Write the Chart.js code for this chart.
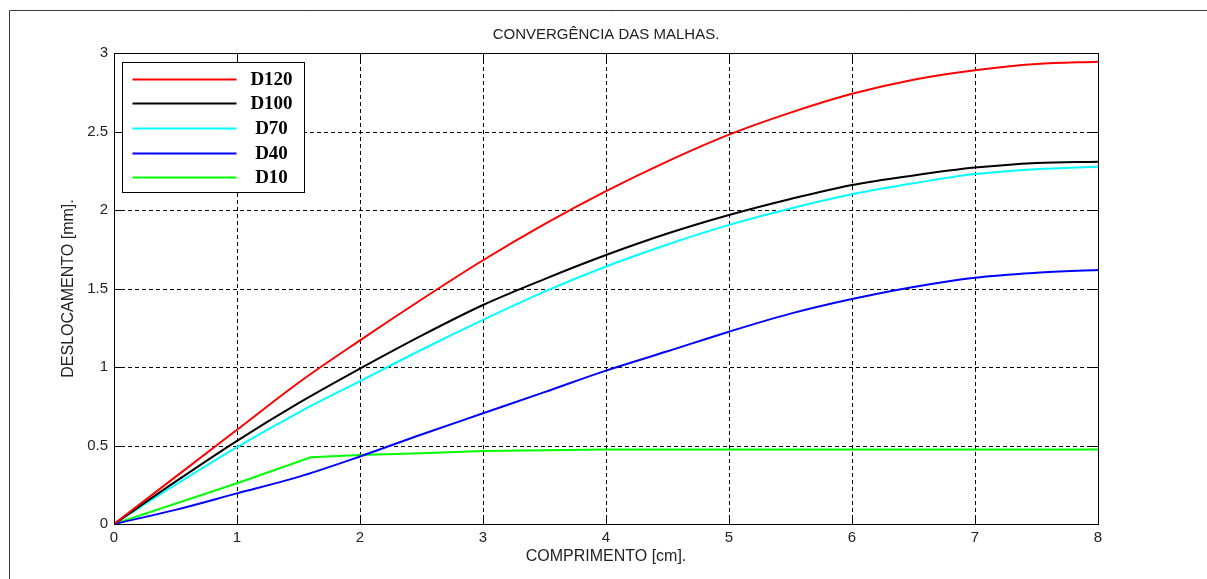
<!DOCTYPE html>
<html>
<head>
<meta charset="utf-8">
<script src="https://cdn.jsdelivr.net/npm/chart.js@4/dist/chart.umd.min.js"></script>
<style>
  html, body { margin: 0; padding: 0; background: #fff; }
  #wrap { width: 1207px; height: 579px; position: relative; }
</style>
</head>
<body>
<div id="wrap"><canvas id="meshChart"></canvas></div>
<script>
// === Data ===
const titleText = 'CONVERGÊNCIA DAS MALHAS.';
const xTitle = 'COMPRIMENTO [cm].';
const yTitle = 'DESLOCAMENTO [mm].';

const xPos = [0, 0.5, 1, 1.5, 2, 2.5, 3, 3.5, 4, 4.5, 5, 5.5, 6, 6.5, 7, 7.5, 8];
const d120 = [0, 0.30, 0.60, 0.90, 1.17, 1.43, 1.68, 1.91, 2.12, 2.31, 2.48, 2.62, 2.74, 2.83, 2.89, 2.93, 2.945];
const d100 = [0, 0.27, 0.53, 0.77, 0.99, 1.20, 1.395, 1.56, 1.713, 1.85, 1.968, 2.07, 2.159, 2.22, 2.27, 2.30, 2.308];
const d70  = [0, 0.25, 0.49, 0.71, 0.91, 1.11, 1.30, 1.48, 1.64, 1.78, 1.905, 2.01, 2.10, 2.17, 2.229, 2.26, 2.276];
const d40  = [0, 0.09, 0.195, 0.30, 0.43, 0.57, 0.705, 0.84, 0.977, 1.10, 1.225, 1.34, 1.433, 1.51, 1.569, 1.60, 1.618];

// D10 has its own nodes (kink near 1.6)
const d10x = [0, 1, 1.6, 2, 2.5, 3, 3.5, 4, 5, 6, 7, 8];
const d10  = [0, 0.26, 0.425, 0.44, 0.45, 0.465, 0.47, 0.475, 0.475, 0.475, 0.475, 0.475];

const seriesNames = ['D120', 'D100', 'D70', 'D40', 'D10'];
const seriesColors = ['#ff0000', '#000000', '#00ffff', '#0000ff', '#00ff00'];

const xTicks = [0, 1, 2, 3, 4, 5, 6, 7, 8];
const yTicks = [0, 0.5, 1, 1.5, 2, 2.5, 3];

const SANS = '"Liberation Sans", Arial, Helvetica, sans-serif';

function toPoints(xs, ys) {
    return xs.map((x, i) => ({ x: x, y: ys[i] }));
}

// === Plugins ===
// outer figure frame (top + left edges only are visible) and the title
const framePlugin = {
    id: 'frame',
    afterDraw(chart) {
        const c = chart.ctx;
        const a = chart.chartArea;
        c.save();
        c.strokeStyle = '#3a3a3a';
        c.lineWidth = 1;
        c.beginPath();
        c.moveTo(9.5, chart.height);
        c.lineTo(9.5, 10.5);
        c.lineTo(chart.width, 10.5);
        c.stroke();
        // title centred over the axes box
        c.fillStyle = '#222';
        c.font = '15px ' + SANS;
        c.textAlign = 'center';
        c.textBaseline = 'middle';
        c.fillText(titleText, (a.left + a.right) / 2, 35);
        c.restore();
    }
};

// matlab style dashed grid, box and inward ticks
const boxPlugin = {
    id: 'box',
    beforeDatasetsDraw(chart) {
        const { ctx: c, chartArea: a, scales } = chart;
        const xs = scales.x, ys = scales.y;
        c.save();
        c.strokeStyle = '#000';
        c.lineWidth = 1;
        c.setLineDash([4, 3]);
        c.beginPath();
        xTicks.slice(1, -1).forEach(v => {
            const px = Math.round(xs.getPixelForValue(v)) + 0.5;
            c.moveTo(px, a.top); c.lineTo(px, a.bottom);
        });
        yTicks.slice(1, -1).forEach(v => {
            const py = Math.round(ys.getPixelForValue(v)) + 0.5;
            c.moveTo(a.left, py); c.lineTo(a.right, py);
        });
        c.stroke();
        c.restore();
    },
    afterDatasetsDraw(chart) {
        const { ctx: c, chartArea: a, scales } = chart;
        const xs = scales.x, ys = scales.y;
        const tl = 9;
        c.save();
        c.strokeStyle = '#000';
        c.lineWidth = 1;
        c.beginPath();
        xTicks.forEach(v => {
            const px = Math.round(xs.getPixelForValue(v)) + 0.5;
            c.moveTo(px, a.bottom); c.lineTo(px, a.bottom - tl);
            c.moveTo(px, a.top); c.lineTo(px, a.top + tl);
        });
        yTicks.forEach(v => {
            const py = Math.round(ys.getPixelForValue(v)) + 0.5;
            c.moveTo(a.left, py); c.lineTo(a.left + tl, py);
            c.moveTo(a.right, py); c.lineTo(a.right - tl, py);
        });
        c.stroke();
        c.strokeRect(Math.round(a.left) + 0.5, Math.round(a.top) + 0.5,
            Math.round(a.right - a.left), Math.round(a.bottom - a.top));
        c.restore();
    }
};

// legend box inside the plot, upper left
const legendPlugin = {
    id: 'boxLegend',
    afterDatasetsDraw(chart) {
        const c = chart.ctx;
        const a = chart.chartArea;
        const bx = a.left + 8.5, by = a.top + 9.5, bw = 182, bh = 130;
        const rowY = [17, 41, 66, 91, 115];
        c.save();
        c.fillStyle = '#fff';
        c.fillRect(bx, by, bw, bh);
        c.strokeStyle = '#000';
        c.lineWidth = 1;
        c.strokeRect(bx, by, bw, bh);
        chart.data.datasets.forEach((ds, i) => {
            const y = by + rowY[i];
            c.strokeStyle = ds.borderColor;
            c.lineWidth = 2;
            c.beginPath();
            c.moveTo(bx + 10, y);
            c.lineTo(bx + 114, y);
            c.stroke();
            c.fillStyle = '#000';
            c.font = 'bold 19px "Liberation Serif", "Times New Roman", serif';
            c.textAlign = 'center';
            c.textBaseline = 'middle';
            c.fillText(ds.label, bx + 149, y + 1);
        });
        c.restore();
    }
};

// === Chart ===
const ctx = document.getElementById('meshChart').getContext('2d');
const allY = [d120, d100, d70, d40];

const datasets = seriesNames.map((name, i) => {
    const pts = i < 4 ? toPoints(xPos, allY[i]) : toPoints(d10x, d10);
    return {
        label: name,
        data: pts,
        borderColor: seriesColors[i],
        backgroundColor: seriesColors[i],
        borderWidth: 2,
        pointRadius: 0,
        fill: false,
        tension: i < 4 ? 0.35 : 0,
        cubicInterpolationMode: i < 4 ? 'monotone' : 'default'
    };
});

new Chart(ctx, {
    type: 'line',
    data: { datasets },
    options: {
        responsive: true,
        maintainAspectRatio: false,
        animation: false,
        events: [],
        layout: { padding: { left: 0, right: 109, top: 53, bottom: 0 } },
        plugins: {
            legend: { display: false },
            tooltip: { enabled: false },
            title: { display: false }
        },
        scales: {
            x: {
                type: 'linear',
                min: 0, max: 8,
                afterBuildTicks: s => { s.ticks = xTicks.map(v => ({ value: v })); },
                afterFit: s => { s.height = 55; },
                grid: { display: false, drawTicks: false },
                border: { display: false },
                ticks: { color: '#222', padding: 5, font: { family: SANS, size: 15 } },
                title: {
                    display: true,
                    text: xTitle,
                    color: '#222',
                    font: { family: SANS, size: 16, lineHeight: 1.2 },
                    padding: { top: 0, bottom: 13 }
                }
            },
            y: {
                type: 'linear',
                min: 0, max: 3,
                afterBuildTicks: s => { s.ticks = yTicks.map(v => ({ value: v })); },
                afterFit: s => { s.width = 114; },
                grid: { display: false, drawTicks: false },
                border: { display: false },
                ticks: {
                    color: '#222', padding: 6, font: { family: SANS, size: 15 },
                    callback: v => String(v)
                },
                title: {
                    display: true,
                    text: yTitle,
                    color: '#222',
                    font: { family: SANS, size: 16, lineHeight: 1.2 },
                    padding: { top: 59, bottom: 0 }
                }
            }
        }
    },
    plugins: [boxPlugin, legendPlugin, framePlugin]
});
</script>
</body>
</html>
